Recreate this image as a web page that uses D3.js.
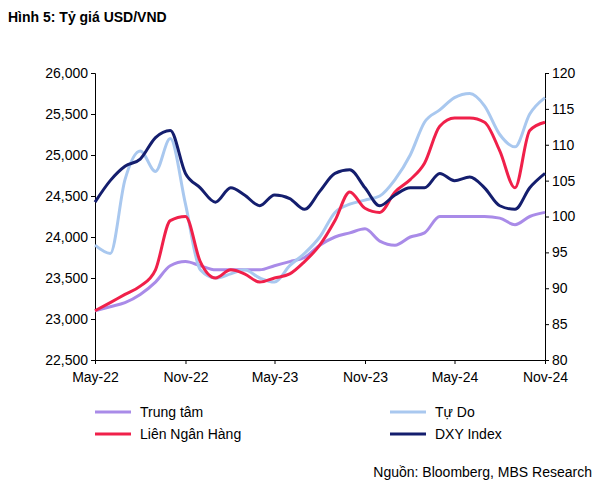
<!DOCTYPE html>
<html><head><meta charset="utf-8">
<script src="https://cdn.jsdelivr.net/npm/d3@7"></script>
<style>body{margin:0;background:#fff;font-family:Arial,"Liberation Sans",sans-serif}</style>
</head><body><svg id="c" width="616" height="484"></svg>
<script>
// monthly values, May-22 .. Nov-24
var months = d3.range(31).map(function(i){ return new Date(2022, 4 + i, 1); });
var trungTam = [23100,23150,23200,23300,23450,23650,23700,23650,23600,23600,23600,23600,23650,23700,23750,23900,24000,24050,24100,23950,23900,24000,24050,24250,24250,24250,24250,24230,24150,24250,24300];
var tuDo = [23900,23800,24700,25050,24800,25200,24400,23600,23500,23550,23600,23500,23450,23650,23800,24000,24300,24400,24450,24500,24700,25000,25400,25550,25700,25750,25600,25250,25100,25500,25700];
var lienNH = [23100,23200,23300,23400,23600,24200,24250,23700,23500,23600,23550,23450,23500,23550,23700,23900,24200,24550,24350,24300,24550,24700,24900,25350,25450,25450,25400,25050,24600,25300,25400];
var dxy = [102,105,107,108,111,112,106,104,102,104,103,101.5,103,102.5,101,103.5,106,106.5,104,101.5,103,104,104,106,105,105.5,104,101.5,101,104,106];
var leftTicks = [22500,23000,23500,24000,24500,25000,25500,26000];
var rightTicks = [80,85,90,95,100,105,110,115,120];
var xTickLabels = ["May-22","Nov-22","May-23","Nov-23","May-24","Nov-24"];

var svg = d3.select("#c");
var L = 95, R = 545, T = 73, B = 360;
var x = d3.scaleTime().domain([months[0], months[30]]).range([L, R]);
var yL = d3.scaleLinear().domain([22500, 26000]).range([B, T]);
var yR = d3.scaleLinear().domain([80, 120]).range([B, T]);

svg.append("text").attr("x", 8).attr("y", 22).attr("font-size", 14).attr("font-weight", "bold").text("Hình 5: Tỷ giá USD/VND");

var axL = svg.append("g").attr("transform", "translate(" + L + ",0)")
	.call(d3.axisLeft(yL).tickValues(leftTicks).tickFormat(d3.format(",")).tickSize(4));
var axR = svg.append("g").attr("transform", "translate(" + R + ",0)")
	.call(d3.axisRight(yR).tickValues(rightTicks).tickSize(4));
var xTicks = d3.range(6).map(function(i){ return months[i * 6]; });
var axB = svg.append("g").attr("transform", "translate(0," + B + ")")
	.call(d3.axisBottom(x).tickValues(xTicks).tickFormat(function(d, i){ return xTickLabels[i]; }).tickSize(4));
[axL, axR, axB].forEach(function(a){
	a.selectAll("text").attr("font-size", 14).attr("fill", "#000").attr("font-family", "Arial, Liberation Sans, sans-serif");
	a.selectAll("path,line").attr("stroke", "#000");
});
axB.selectAll("text").attr("dy", "1.1em");

var series = [
	{name: "Trung tâm", data: trungTam, color: "#a98be8", y: yL},
	{name: "Tự Do", data: tuDo, color: "#a9c8ef", y: yL},
	{name: "Liên Ngân Hàng", data: lienNH, color: "#f0204a", y: yL},
	{name: "DXY Index", data: dxy, color: "#141e6e", y: yR}
];
series.forEach(function(s){
	var line = d3.line().x(function(d, i){ return x(months[i]); }).y(function(d){ return s.y(d); }).curve(d3.curveMonotoneX);
	svg.append("path").datum(s.data).attr("d", line).attr("fill", "none")
		.attr("stroke", s.color).attr("stroke-width", 3);
});

var legendPos = [[95, 412], [390, 412], [95, 434], [390, 434]];
series.forEach(function(s, i){
	var p = legendPos[i];
	svg.append("line").attr("x1", p[0]).attr("x2", p[0] + 36).attr("y1", p[1]).attr("y2", p[1])
		.attr("stroke", s.color).attr("stroke-width", 3);
	svg.append("text").attr("x", p[0] + 45).attr("y", p[1] + 5).attr("font-size", 14).text(s.name);
});

svg.append("text").attr("x", 592).attr("y", 477).attr("text-anchor", "end").attr("font-size", 14)
	.text("Nguồn: Bloomberg, MBS Research");
</script></body></html>
